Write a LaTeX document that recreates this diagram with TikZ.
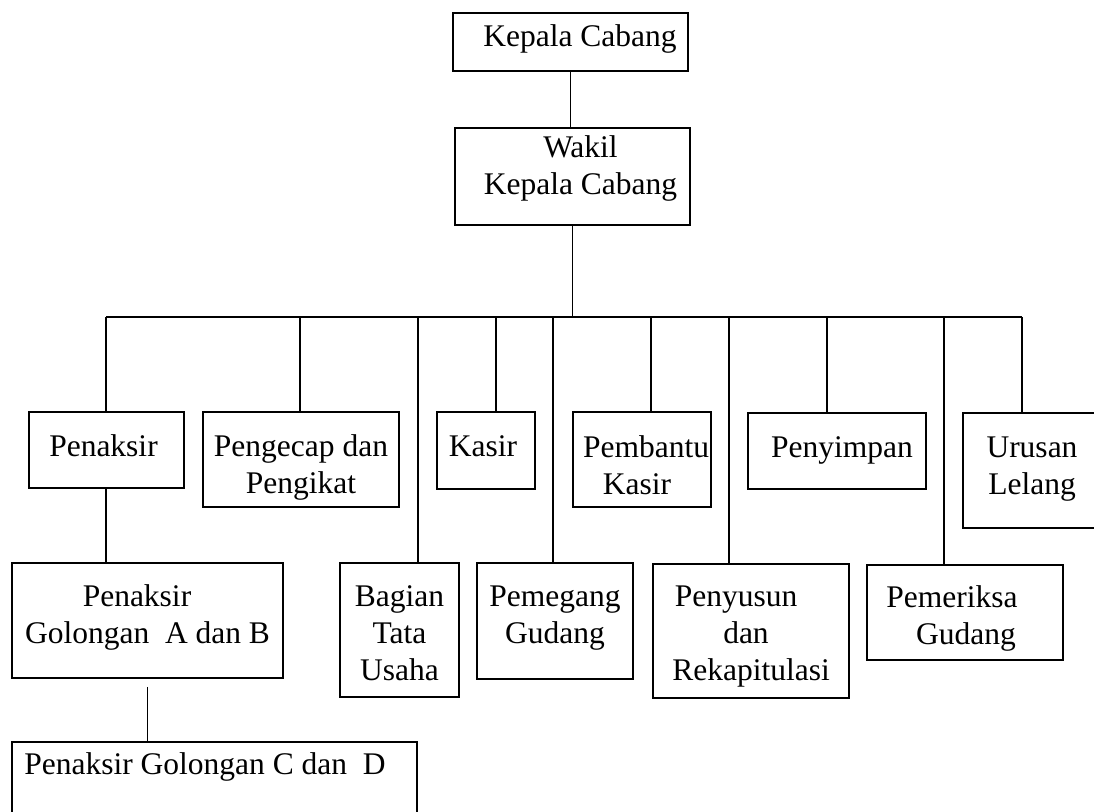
\documentclass[tikz,border=0pt]{standalone}
\usepackage{fontspec}
\setmainfont{Liberation Serif}
\newcommand\txb[3]{\raisebox{0pt}[#1][#2]{\begin{tabular}[t]{@{}c@{}}#3\end{tabular}}}
\tikzset{
  orgbox/.style={draw, line width=0.9pt, inner sep=0pt, outer sep=0pt,
    font=\fontsize{15.75pt}{18.5pt}\selectfont},
  link/.style={line width=0.9pt},
}
\begin{document}
\begin{tikzpicture}[x=0.5pt, y=-0.5pt]
\useasboundingbox (0,0) rectangle (1094,812);
\clip (0,0) rectangle (1094,812);
% boxes
\node[orgbox, minimum width=117.5pt, minimum height=29pt] (kc) at (570.5,42)
  {\hspace*{9.5pt}\txb{5pt}{0pt}{Kepala Cabang}};
\node[orgbox, minimum width=117.5pt, minimum height=48.5pt] (wk) at (572.5,176.5)
  {\hspace*{8pt}\txb{0pt}{18.5pt}{Wakil\\Kepala Cabang}};
\node[orgbox, minimum width=77.5pt, minimum height=38pt] (pn) at (106.5,450)
  {\txb{7pt}{0pt}{Penaksir}\hspace*{3pt}};
\node[orgbox, minimum width=98pt, minimum height=47.5pt] (pg) at (301,459.5)
  {\txb{0pt}{2.5pt}{Pengecap dan\\Pengikat}};
\node[orgbox, minimum width=49pt, minimum height=38.5pt] (ks) at (486,450.5)
  {\txb{6.5pt}{0pt}{Kasir}\hspace*{3pt}};
\node[orgbox, minimum width=69pt, minimum height=47.5pt] (pb) at (642,459.5)
  {\hspace*{4pt}\txb{0pt}{1.5pt}{Pembantu\\Kasir\hspace*{9pt}}};
\node[orgbox, minimum width=89pt, minimum height=38pt] (py) at (837,451)
  {\hspace*{5pt}\txb{7pt}{0pt}{Penyimpan}};
\node[orgbox, minimum width=69pt, minimum height=57.5pt] (ur) at (1032,470.5)
  {\txb{0pt}{12.5pt}{Urusan\\Lelang}};
\node[orgbox, minimum width=135.5pt, minimum height=57.5pt] (ab) at (147.5,620.5)
  {\txb{0pt}{13.5pt}{Penaksir\hspace*{10.5pt}\\Golongan\ \ A dan B}};
\node[orgbox, minimum width=202.5pt, minimum height=44pt] (cd) at (214.5,786)
  {\txb{0pt}{11pt}{Penaksir Golongan C dan\ \ D}\hspace*{9.5pt}};
\node[orgbox, minimum width=59.5pt, minimum height=67pt] (bt) at (399.5,630)
  {\txb{0pt}{23pt}{Bagian\\Tata\\Usaha}};
\node[orgbox, minimum width=78pt, minimum height=58pt] (pm) at (555,621)
  {\txb{0pt}{14pt}{Pemegang\\Gudang}};
\node[orgbox, minimum width=98pt, minimum height=67pt] (ps) at (751,631)
  {\txb{0pt}{24pt}{Penyusun\hspace*{15pt}\\dan\hspace*{5pt}\\Rekapitulasi}};
\node[orgbox, minimum width=98pt, minimum height=47.5pt] (pe) at (965,612.5)
  {\txb{0pt}{4.5pt}{Pemeriksa\\\hspace*{14pt}Gudang}\hspace*{13pt}};
% bus points
\coordinate (t-pn) at (106,317);
\coordinate (t-pg) at (300,317);
\coordinate (t-bt) at (418,317);
\coordinate (t-ks) at (496,317);
\coordinate (t-pm) at (553,317);
\coordinate (t-pb) at (651,317);
\coordinate (t-ps) at (729,317);
\coordinate (t-py) at (827,317);
\coordinate (t-pe) at (944,317);
\coordinate (t-ur) at (1022,317);
% connectors
\draw[link] (kc.south) -- (kc.south |- wk.north);
\draw[link] (wk.south) -- (wk.south |- t-pn);
\draw[link] (t-pn) -- (t-ur);
\foreach \n in {pn,pg,bt,ks,pm,pb,ps,py,pe,ur}
  \draw[link] (t-\n) -- (t-\n |- \n.north);
\draw[link] (t-pn |- pn.south) -- (t-pn |- ab.north);
\draw[line width=0.6pt, shorten <=4.5pt] (ab.south) -- (ab.south |- cd.north);
\end{tikzpicture}
\end{document}
